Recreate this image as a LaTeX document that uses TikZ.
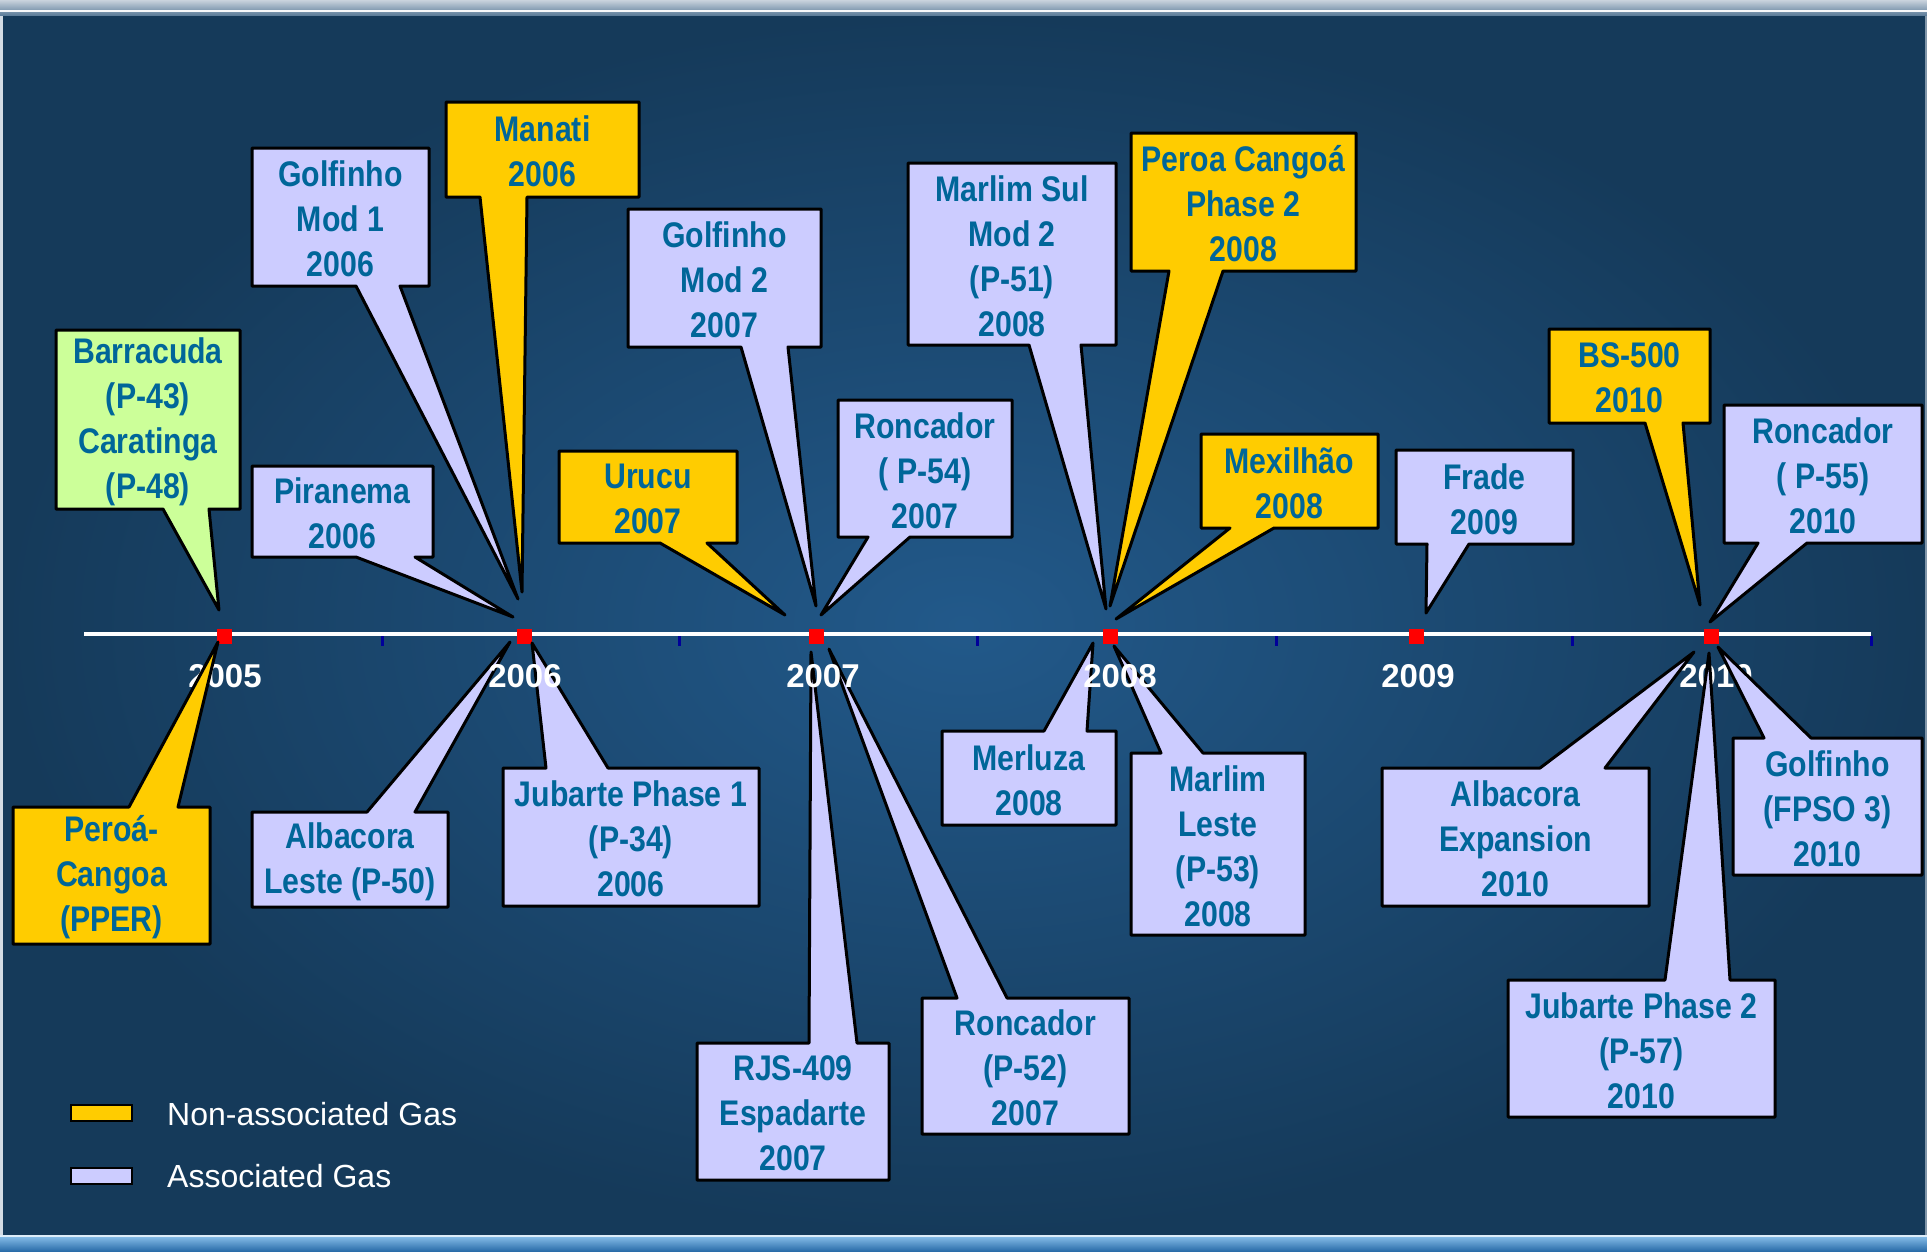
\documentclass[tikz,border=0pt]{standalone}
\usepackage{fontspec}
\setmainfont{Liberation Sans}
\newfontfamily\calfont[FakeStretch=0.85]{Liberation Sans Bold}
\newfontfamily\yrfont{Liberation Sans Bold}
\usetikzlibrary{calc}
\definecolor{lav}{HTML}{CCCCFF}
\definecolor{gold}{HTML}{FFCC00}
\definecolor{lime}{HTML}{CCFF99}
\definecolor{txt}{HTML}{006699}
\definecolor{bgin}{HTML}{22598A}
\definecolor{bgout}{HTML}{153A5A}
\definecolor{tickblue}{HTML}{000099}
\definecolor{topa}{HTML}{C9D3DD}
\definecolor{topb}{HTML}{5E7E9B}
\definecolor{bota}{HTML}{8EC4EE}
\definecolor{botb}{HTML}{2A6CA9}

\tikzset{
  callout/.style={draw=black, line width=3pt, line join=round},
  calltext/.style={font=\calfont\fontsize{35.6}{45}\selectfont, text=txt, align=center, inner sep=0pt},
  yearlbl/.style={font=\yrfont\fontsize{33}{36}\selectfont, text=white, anchor=base, inner sep=0pt},
  legtext/.style={font=\fontsize{32}{36}\selectfont, text=white, anchor=base west, inner sep=0pt},
  marker/.style={fill=red, minimum size=15pt, inner sep=0pt, draw=none},
  swatch/.style={draw=black, line width=2pt, minimum width=61pt, minimum height=16pt, inner sep=0pt},
  tickmark/.style={draw=tickblue, line width=3pt},
}

% callout above the timeline: wedge leaves the bottom edge
\newcommand{\CalloutUp}[8]{%
  \coordinate (#1-a) at (#3);
  \coordinate (#1-c) at (#4);
  \coordinate (#1-p) at (#5,0);
  \coordinate (#1-q) at (#6,0);
  \coordinate (#1-t) at (#7);
  \draw[callout,fill=#2] (#1-a) -- (#1-a -| #1-c) -- (#1-c) -- (#1-q |- #1-c) -- (#1-t)
     -- (#1-p |- #1-c) -- (#1-a |- #1-c) -- cycle;
  \node[calltext] (#1) at ($(#1-a)!0.5!(#1-c)+(0,2)$) {#8};
}
% callout below the timeline: wedge leaves the top edge
\newcommand{\CalloutDown}[8]{%
  \coordinate (#1-a) at (#3);
  \coordinate (#1-c) at (#4);
  \coordinate (#1-p) at (#5,0);
  \coordinate (#1-q) at (#6,0);
  \coordinate (#1-t) at (#7);
  \draw[callout,fill=#2] (#1-a) -- (#1-p |- #1-a) -- (#1-t) -- (#1-q |- #1-a)
     -- (#1-a -| #1-c) -- (#1-c) -- (#1-a |- #1-c) -- cycle;
  \node[calltext] (#1) at ($(#1-a)!0.5!(#1-c)+(0,2)$) {#8};
}

\begin{document}
\begin{tikzpicture}[x=1pt,y=-1pt]
\useasboundingbox (0,0) rectangle (1927,1251);
% background
\fill[bgout] (0,0) rectangle (1927,1251);
\shade[inner color=bgin, outer color=bgout] (3,15) rectangle (1925,1235);
\fill[topa!80!white] (0,0) rectangle (3,1251);
\fill[topa!60!bgout] (1925,0) rectangle (1927,1251);
\shade[top color=topa, bottom color=topb] (0,0) rectangle (1927,15);
\draw[white!85!topa, line width=1.5pt] (0,11) -- (1927,11);
\shade[top color=bota, bottom color=botb] (0,1235) rectangle (1927,1251);
\draw[white!70!bota, line width=1.5pt] (0,1236) -- (1927,1236);

% timeline
\coordinate (tl-s) at (84,634);
\coordinate (tl-e) at (1871,634);
\draw[white, line width=4pt] (tl-s) -- (tl-e);
\foreach \x in {382,679,977,1276,1572,1871} \draw[tickmark] (\x,636) -- (\x,646);
\node[marker] (m2005) at (224,636) {};
\node[marker] (m2006) at (524,636) {};
\node[marker] (m2007) at (816,636) {};
\node[marker] (m2008) at (1110,636) {};
\node[marker] (m2009) at (1416,636) {};
\node[marker] (m2010) at (1711,636) {};

\node[yearlbl] (y2005) at (225,687) {2005};
\node[yearlbl] (y2010) at (1716,687) {2010};

% callouts above the line
\CalloutUp{barracuda}{lime}{56,330}{240,509}{163}{209}{219,610}{Barracuda\\(P-43)\\Caratinga\\(P-48)}
\CalloutUp{piranema}{lav}{252,466}{433,557}{356}{415}{513,617}{Piranema\\2006}
\CalloutUp{golf1}{lav}{252,148}{429,286}{356}{400}{518,599}{Golfinho\\Mod 1\\2006}
\CalloutUp{manati}{gold}{446,102}{639,197}{480}{527}{522,592}{Manati\\2006}
\CalloutUp{urucu}{gold}{559,451}{737,543}{660}{707}{785,615}{Urucu\\2007}
\CalloutUp{golf2}{lav}{628,209}{821,347}{741}{788}{816,606}{Golfinho\\Mod 2\\2007}
\CalloutUp{ronc54}{lav}{838,400}{1012,537}{868}{910}{821,615}{Roncador\\( P-54)\\2007}
\CalloutUp{marlimsul}{lav}{908,163}{1116,345}{1029}{1081}{1106,609}{Marlim Sul\\Mod 2\\(P-51)\\2008}
\CalloutUp{peroa2}{gold}{1131,133}{1356,271}{1169}{1223}{1110,606}{Peroa Cangoá\\Phase 2\\2008}
\CalloutUp{mexilhao}{gold}{1201,434}{1378,528}{1230}{1274}{1116,619}{Mexilhão\\2008}
\CalloutUp{frade}{lav}{1396,450}{1573,544}{1427}{1469}{1426,613}{Frade\\2009}
\CalloutUp{bs500}{gold}{1549,329}{1710,423}{1645}{1683}{1700,605}{BS-500\\2010}
\CalloutUp{ronc55}{lav}{1724,405}{1922,543}{1758}{1807}{1710,622}{Roncador\\( P-55)\\2010}

% callouts below the line
\CalloutDown{peroa}{gold}{13,807}{210,944}{129}{178}{218,642}{Peroá-\\Cangoa\\(PPER)}
\CalloutDown{albleste}{lav}{252,812}{448,907}{367}{415}{510,642}{Albacora\\Leste (P-50)}
\CalloutDown{jub1}{lav}{503,768}{759,906}{546}{608}{532,643}{Jubarte Phase 1\\(P-34)\\2006}
\CalloutDown{rjs}{lav}{697,1043}{889,1180}{809}{857}{811,652}{RJS-409\\Espadarte\\2007}
\CalloutDown{ronc52}{lav}{922,998}{1129,1134}{957}{1007}{829,649}{Roncador\\(P-52)\\2007}
\CalloutDown{merluza}{lav}{942,731}{1116,825}{1044}{1087}{1093,643}{Merluza\\2008}
\CalloutDown{marlimleste}{lav}{1131,753}{1305,935}{1161}{1203}{1114,646}{Marlim\\Leste\\(P-53)\\2008}
\CalloutDown{albexp}{lav}{1382,768}{1649,906}{1540}{1605}{1694,652}{Albacora\\Expansion\\2010}
\CalloutDown{jub2}{lav}{1508,980}{1775,1117}{1665}{1730}{1709,653}{Jubarte Phase 2\\(P-57)\\2010}
\CalloutDown{golf3}{lav}{1733,738}{1922,875}{1764}{1811}{1718,647}{Golfinho\\(FPSO 3)\\2010}

\node[yearlbl] (y2006) at (525,687) {2006};
\node[yearlbl] (y2007) at (823,687) {2007};
\node[yearlbl] (y2008) at (1120,687) {2008};
\node[yearlbl] (y2009) at (1418,687) {2009};

% legend
\node[swatch, fill=gold] (lg1) at (101.5,1113) {};
\node[swatch, fill=lav] (lg2) at (101.5,1175.5) {};
\node[legtext] (lt1) at (167,1125) {Non-associated Gas};
\node[legtext] (lt2) at (167,1187) {Associated Gas};
\end{tikzpicture}
\end{document}
